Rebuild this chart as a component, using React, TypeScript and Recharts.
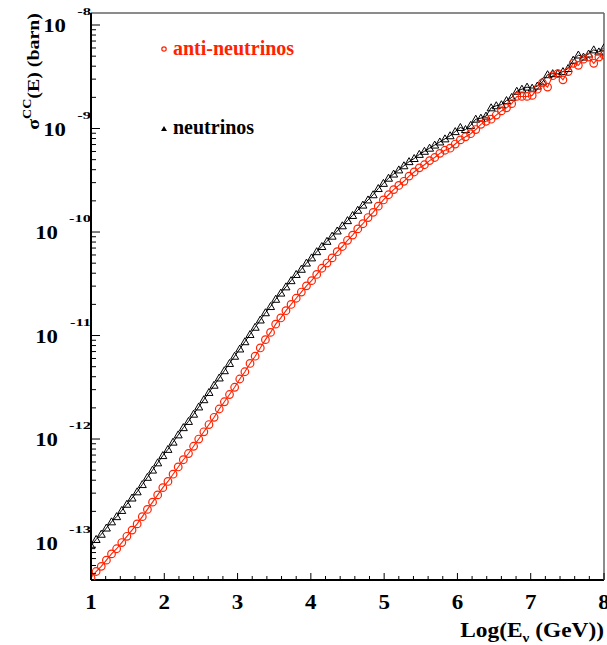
import React from 'react';
import { LineChart, Line, XAxis, YAxis } from 'recharts';

// log10(E / GeV)
const logE = [
  1.00, 1.07, 1.14, 1.21, 1.28, 1.35, 1.42, 1.49, 1.56, 1.63,
  1.70, 1.77, 1.84, 1.91, 1.98, 2.05, 2.12, 2.19, 2.26, 2.33,
  2.40, 2.47, 2.54, 2.61, 2.68, 2.75, 2.82, 2.89, 2.96, 3.03,
  3.10, 3.17, 3.24, 3.31, 3.38, 3.45, 3.52, 3.59, 3.66, 3.73,
  3.80, 3.87, 3.94, 4.01, 4.08, 4.15, 4.22, 4.29, 4.36, 4.43,
  4.50, 4.57, 4.64, 4.71, 4.78, 4.85, 4.92, 4.99, 5.06, 5.13,
  5.20, 5.27, 5.34, 5.41, 5.48, 5.55, 5.62, 5.69, 5.76, 5.83,
  5.90, 5.97, 6.04, 6.11, 6.18, 6.25, 6.32, 6.39, 6.46, 6.53,
  6.60, 6.67, 6.74, 6.81, 6.88, 6.95, 7.02, 7.09, 7.16, 7.23,
  7.30, 7.37, 7.44, 7.51, 7.58, 7.65, 7.72, 7.79, 7.86, 7.93,
  8.00,
];

// log10(sigma_CC / barn) for neutrinos
const neutrinoExp = [
  -13.03, -12.97, -12.92, -12.86, -12.80, -12.75, -12.69, -12.63, -12.57, -12.51,
  -12.44, -12.37, -12.30, -12.23, -12.16, -12.10, -12.03, -11.96, -11.89, -11.83,
  -11.76, -11.69, -11.62, -11.55, -11.48, -11.41, -11.34, -11.27, -11.20, -11.13,
  -11.06, -10.99, -10.92, -10.85, -10.78, -10.72, -10.65, -10.59, -10.53, -10.47,
  -10.41, -10.36, -10.30, -10.25, -10.19, -10.14, -10.09, -10.04, -9.99, -9.94,
  -9.89, -9.84, -9.79, -9.74, -9.69, -9.64, -9.58, -9.53, -9.48, -9.44,
  -9.40, -9.36, -9.32, -9.29, -9.25, -9.22, -9.19, -9.16, -9.13, -9.10,
  -9.07, -9.03, -8.99, -9.01, -8.97, -8.91, -8.90, -8.88, -8.80, -8.78,
  -8.77, -8.73, -8.70, -8.64, -8.62, -8.60, -8.61, -8.59, -8.55, -8.48,
  -8.47, -8.47, -8.45, -8.42, -8.34, -8.29, -8.31, -8.28, -8.24, -8.26,
  -8.22,
];

// log10(sigma_CC / barn) for anti-neutrinos
const antiNeutrinoExp = [
  -13.34, -13.28, -13.23, -13.17, -13.11, -13.06, -13.00, -12.94, -12.88, -12.82,
  -12.75, -12.68, -12.61, -12.54, -12.47, -12.41, -12.34, -12.27, -12.20, -12.14,
  -12.07, -12.00, -11.93, -11.86, -11.79, -11.71, -11.64, -11.57, -11.50, -11.42,
  -11.35, -11.27, -11.20, -11.12, -11.04, -10.97, -10.89, -10.83, -10.76, -10.70,
  -10.64, -10.58, -10.52, -10.47, -10.41, -10.35, -10.30, -10.25, -10.19, -10.14,
  -10.08, -10.03, -9.97, -9.92, -9.86, -9.81, -9.75, -9.69, -9.64, -9.59,
  -9.55, -9.51, -9.46, -9.42, -9.38, -9.35, -9.31, -9.28, -9.24, -9.21,
  -9.19, -9.15, -9.11, -9.08, -9.05, -9.01, -8.96, -8.93, -8.91, -8.87,
  -8.83, -8.80, -8.76, -8.69, -8.69, -8.69, -8.68, -8.62, -8.56, -8.60,
  -8.49, -8.47, -8.53, -8.45, -8.37, -8.39, -8.33, -8.31, -8.37, -8.31,
  -8.29,
];

const xMajorTicks = [1, 2, 3, 4, 5, 6, 7, 8];
const xMinorSteps = [0.2, 0.4, 0.6, 0.8];
const yDecades = [-8, -9, -10, -11, -12, -13, -14];
const yMinorMantissas = [2, 3, 4, 5, 6, 7, 8, 9];
const legendLabels = ['anti-neutrinos', 'neutrinos'];

const W = 607;
const H = 645;
const PL = 91;
const PB = 580;
const Y_MIN = Math.pow(10, -13.362);
const Y_MAX = Math.pow(10, -7.884);
const RED = '#ff2200';
const FONT = '"Liberation Serif", "Times New Roman", serif';

const data = logE.map((x, i) => ({
  x,
  nu: Math.pow(10, neutrinoExp[i]),
  anu: Math.pow(10, antiNeutrinoExp[i]),
}));

const yTicks: number[] = [];
yDecades.forEach((d) => {
  const major = Math.pow(10, d);
  if (major >= Y_MIN && major <= Y_MAX) yTicks.push(major);
  yMinorMantissas.forEach((m) => {
    const v = m * Math.pow(10, d);
    if (v >= Y_MIN && v <= Y_MAX) yTicks.push(v);
  });
});
yTicks.sort((a, b) => a - b);

const xTicks: number[] = [];
xMajorTicks.forEach((t, i) => {
  xTicks.push(t);
  if (i < xMajorTicks.length - 1) xMinorSteps.forEach((s) => xTicks.push(Math.round((t + s) * 10) / 10));
});

const YTick = (props: any) => {
  const { y, payload } = props;
  const v = payload.value;
  const e = Math.log10(v);
  const re = Math.round(e);
  const major = Math.abs(e - re) < 1e-6;
  const expStr = String(re);
  const expW = expStr.length * 8 - 1;
  const baseRight = PL - expW - 10;
  return (
    <g>
      <line x1={PL} x2={PL + (major ? 9 : 5)} y1={y} y2={y} stroke="#000" strokeWidth={1} />
      {major && (
        <g>
          <text
            transform={`translate(${baseRight},${y + 7}) scale(1.2,1)`}
            textAnchor="end"
            fontFamily={FONT}
            fontWeight="bold"
            fontSize={19}
            fill="#000"
          >
            10
          </text>
          <text
            transform={`translate(${PL},${y - 10}) scale(1.5,1)`}
            textAnchor="end"
            fontFamily={FONT}
            fontWeight="bold"
            fontSize={11}
            fill="#000"
          >
            {expStr}
          </text>
        </g>
      )}
    </g>
  );
};

const XTick = (props: any) => {
  const { x, payload } = props;
  const v = payload.value;
  const major = Math.abs(v - Math.round(v)) < 1e-6;
  return (
    <g>
      <line x1={x} x2={x} y1={PB} y2={PB - (major ? 7 : 4)} stroke="#000" strokeWidth={1} />
      {major && (
        <text
          transform={`translate(${x},609) scale(1.15,1)`}
          textAnchor="middle"
          fontFamily={FONT}
          fontWeight="bold"
          fontSize={20}
          fill="#000"
        >
          {Math.round(v)}
        </text>
      )}
    </g>
  );
};

const TriangleDot = (props: any) => {
  const { cx, cy, index } = props;
  if (cx == null || cy == null) return <g key={`t${index}`} />;
  const s = 4;
  return (
    <polygon
      key={`t${index}`}
      points={`${cx},${cy - s} ${cx - s},${cy + s * 0.75} ${cx + s},${cy + s * 0.75}`}
      fill="none"
      stroke="#000"
      strokeWidth={1}
    />
  );
};

export default function App() {
  return (
    <div style={{ position: 'absolute', left: 0, top: 0, width: W, height: H, background: '#fff' }}>
      <LineChart width={W} height={H} data={data} margin={{ top: 0, right: 0, bottom: 0, left: 0 }}>
        <XAxis
          dataKey="x"
          type="number"
          domain={[1, 8]}
          ticks={xTicks}
          interval={0}
          tick={XTick}
          tickLine={false}
          axisLine={{ stroke: '#000', strokeWidth: 2 }}
          height={65}
          allowDataOverflow
        />
        <XAxis
          xAxisId="top"
          orientation="top"
          type="number"
          domain={[1, 8]}
          tick={false}
          tickLine={false}
          axisLine={{ stroke: '#666', strokeWidth: 1.5 }}
          height={13}
        />
        <YAxis
          scale="log"
          type="number"
          domain={[Y_MIN, Y_MAX]}
          allowDataOverflow
          ticks={yTicks}
          interval={0}
          tick={YTick}
          tickLine={false}
          axisLine={{ stroke: '#000', strokeWidth: 2 }}
          width={91}
        />
        <YAxis
          yAxisId="right"
          orientation="right"
          type="number"
          domain={[0, 1]}
          tick={false}
          tickLine={false}
          axisLine={{ stroke: '#666', strokeWidth: 1.5 }}
          width={3}
        />
        <Line
          type="linear"
          dataKey="nu"
          stroke="#000"
          strokeWidth={1}
          dot={TriangleDot}
          activeDot={false}
          isAnimationActive={false}
        />
        <Line
          type="linear"
          dataKey="anu"
          stroke={RED}
          strokeWidth={1.1}
          dot={{ r: 3.8, fill: 'none', stroke: RED, strokeWidth: 1.2 }}
          activeDot={false}
          isAnimationActive={false}
        />
      </LineChart>
      <svg
        width={W}
        height={H}
        style={{ position: 'absolute', left: 0, top: 0, pointerEvents: 'none' }}
      >
        <text
          transform="translate(39,13) rotate(-90) scale(1.17,1)"
          textAnchor="end"
          fontFamily={FONT}
          fontWeight="bold"
          fontSize={17}
          fill="#000"
        >
          σ
          <tspan dy={-8} fontSize={12}>CC</tspan>
          <tspan dy={8}>(E) (barn)</tspan>
        </text>
        <text
          transform="translate(604,637) scale(1.17,1)"
          textAnchor="end"
          fontFamily={FONT}
          fontWeight="bold"
          fontSize={20}
          fill="#000"
        >
          Log(E
          <tspan dy={5} fontSize={13}>ν</tspan>
          <tspan dy={-5}> (GeV))</tspan>
        </text>
        <circle cx={164} cy={49} r={2.2} fill="none" stroke={RED} strokeWidth={1.2} />
        <text x={173} y={55} fontFamily={FONT} fontWeight="bold" fontSize={20} fill={RED}>
          {legendLabels[0]}
        </text>
        <polygon points="164,126 161,131 167,131" fill="#000" />
        <text x={173} y={134} fontFamily={FONT} fontWeight="bold" fontSize={20} fill="#000">
          {legendLabels[1]}
        </text>
      </svg>
    </div>
  );
}
